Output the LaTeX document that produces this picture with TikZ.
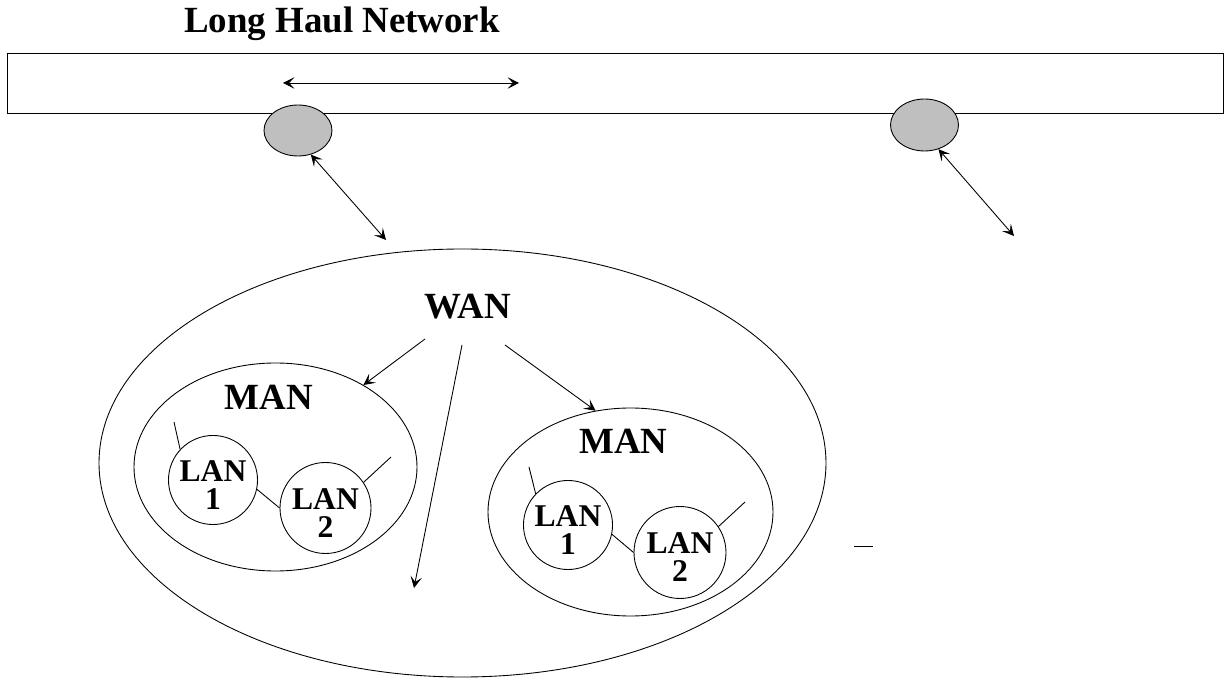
\documentclass[tikz,border=0pt]{standalone}
\usepackage{fontspec}
\setmainfont{Liberation Serif}
\usetikzlibrary{shapes.geometric, arrows.meta, positioning, calc}

\begin{document}
\begin{tikzpicture}[
        >={Stealth[length=6.5pt, width=6.5pt, inset=3pt]},
        line width=0.5pt,
        title/.style={font=\fontsize{21}{25}\selectfont\bfseries, inner sep=0pt, anchor=base},
        gateway/.style={ellipse, draw, fill=black!25, inner sep=0pt, minimum width=1.36cm, minimum height=1.02cm},
        region/.style={ellipse, draw, inner sep=0pt},
        lan/.style={circle, draw, inner sep=0pt, minimum size=1.78cm, align=center, text height=33.5pt, font=\fontsize{18}{16}\selectfont\bfseries},
        line/.style={draw, ->},
        dline/.style={draw, <->},
        link/.style={draw}
    ]
        \useasboundingbox (0,0) rectangle (24.5,13.62);

        % Long haul backbone
        \node [title] (title) at (6.84,12.96) {Long Haul Network};
        \node [draw, inner sep=0pt, minimum width=24.32cm, minimum height=1.2cm] (haul) at (12.3,11.96) {};
        \coordinate (hl) at (5.66,11.96);
        \coordinate (hr) at (10.38,11.96);
        \path [dline] (hl) -- (hr);

        % Gateways
        \node [gateway] (gw1) at (5.96,11.01) {};
        \node [gateway, minimum height=1.04cm] (gw2) at (18.49,11.12) {};
        \coordinate (gw1end) at (7.72,8.82);
        \coordinate (gw2end) at (20.28,8.9);
        \path [dline] (gw1.-62) -- (gw1end);
        \path [dline] (gw2.-60) -- (gw2end);

        % WAN
        \node [region, minimum width=14.54cm, minimum height=8.56cm] (wanarea) at (9.25,4.36) {};
        \node [title] (wan) at (9.36,7.24) {WAN};

        % MANs
        \node [region, minimum width=5.66cm, minimum height=4.16cm] (manA) at (5.51,4.28) {};
        \node [title] (manAlbl) at (5.38,5.42) {MAN};
        \node [region, minimum width=5.7cm, minimum height=4.16cm] (manB) at (12.61,3.38) {};
        \node [title] (manBlbl) at (12.47,4.54) {MAN};

        % LANs
        \node [lan] (lanA1) at (4.26,4.02) {LAN\\1};
        \node [lan, minimum size=1.82cm] (lanA2) at (6.51,3.46) {LAN\\2};
        \node [lan] (lanB1) at (11.36,3.12) {LAN\\1};
        \node [lan, minimum size=1.84cm] (lanB2) at (13.6,2.57) {LAN\\2};

        % Paths
        % WAN to MAN
        \coordinate (wandown) at (8.28,1.86);
        \path [line] ([shift={(-0.86,-0.4)}]wan.base) -- (manA.43);
        \path [line] ([shift={(-0.12,-0.52)}]wan.base) -- (wandown);
        \path [line] ([shift={(0.74,-0.52)}]wan.base) -- (manB.109);
        % LAN links
        \path [link] (lanA1.-12) -- (lanA2.180);
        \path [link] (lanB1.-12) -- (lanB2.180);
        % Stubs
        \coordinate (tA1) at (3.48,5.18);
        \coordinate (tA2) at (7.82,4.48);
        \coordinate (tB1) at (10.58,4.28);
        \coordinate (tB2) at (14.9,3.58);
        \path [link] (lanA1.137) -- (tA1);
        \path [link] (lanA2.34) -- (tA2);
        \path [link] (lanB1.136) -- (tB1);
        \path [link] (lanB2.34) -- (tB2);
        \coordinate (dl) at (17.08,2.7);
        \coordinate (dr) at (17.46,2.7);
        \path [link] (dl) -- (dr);

    \end{tikzpicture}
\end{document}
